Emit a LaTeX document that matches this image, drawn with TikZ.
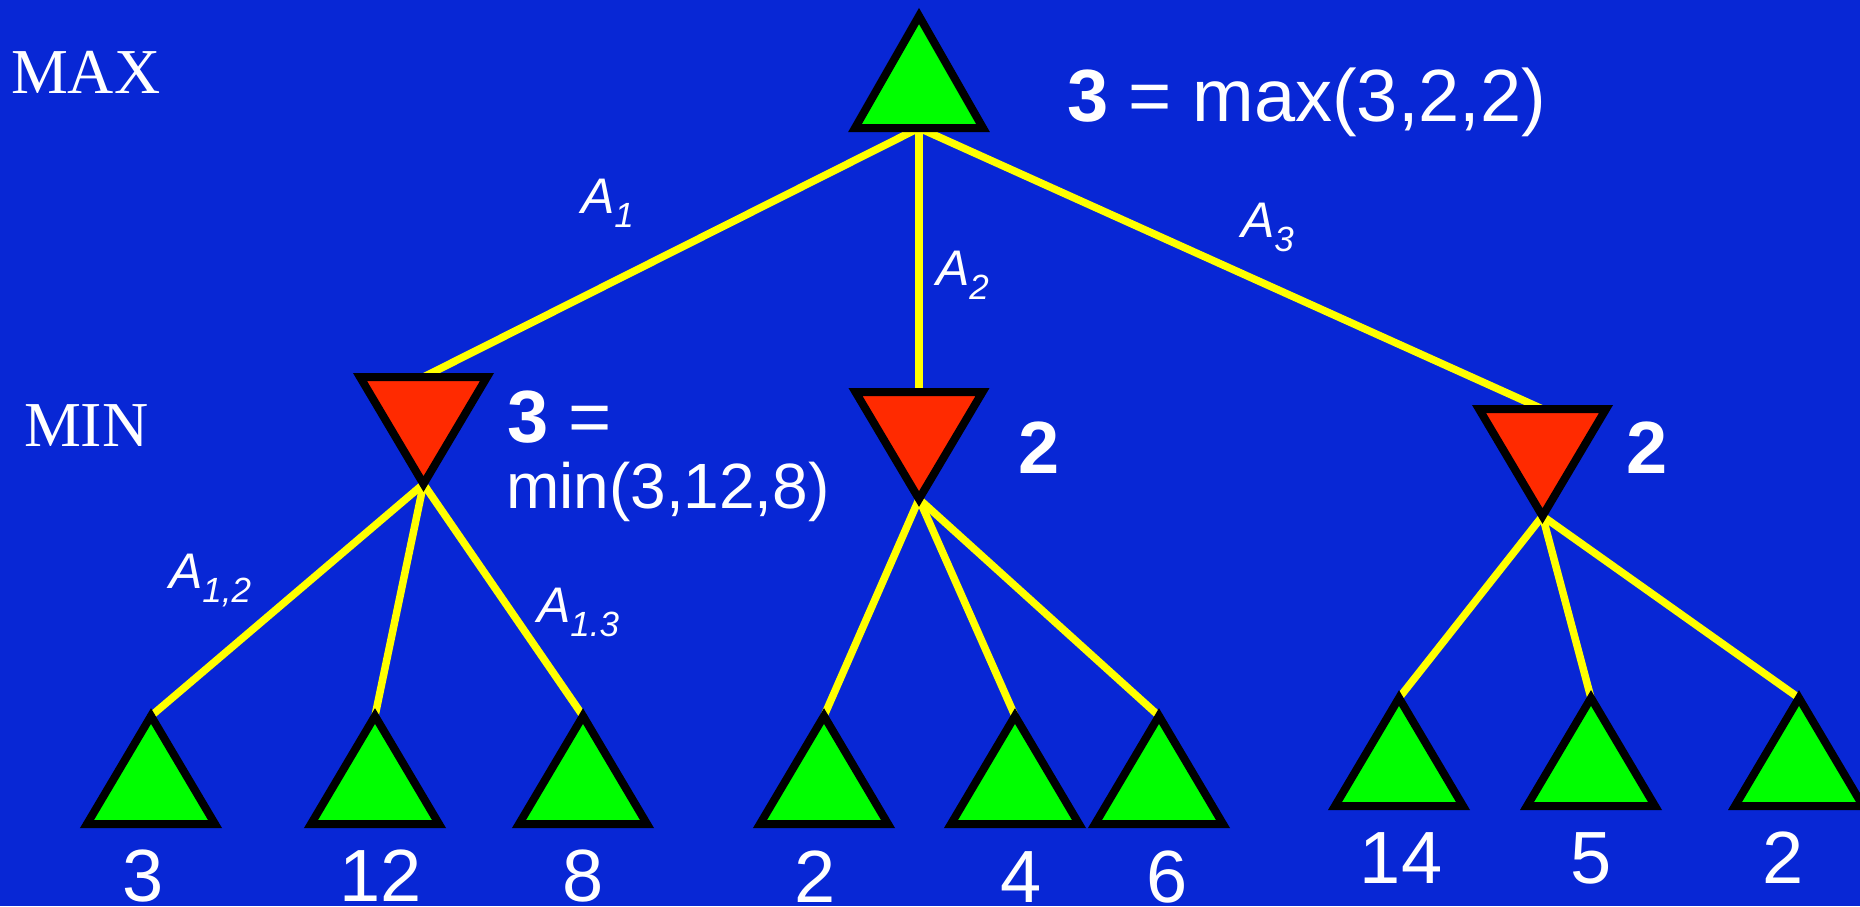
\documentclass[tikz,border=0pt]{standalone}
\usepackage{fontspec}
\setmainfont{Liberation Sans}
\newfontfamily\timesface{Liberation Serif}
\pgfdeclarelayer{bglayer}
\pgfsetlayers{bglayer,main}
\definecolor{bgblue}{RGB}{8,39,213}
\definecolor{maxgreen}{RGB}{0,255,0}
\definecolor{minred}{RGB}{255,42,0}
\definecolor{lineyellow}{RGB}{255,255,0}
\newcommand\setfs[1]{\fontsize{#1pt}{#1pt}\selectfont}
\newcommand\subtext[1]{\raisebox{-14pt}{\setfs{35}#1}}
\tikzset{
  triborder/.style={draw=black, line width=8pt, line join=miter},
  maxnode/.style={inner sep=0pt, outer sep=0pt, minimum width=128pt, minimum height=#1,
    append after command={\pgfextra{\draw[triborder, fill=maxgreen]
      (\tikzlastnode.south west) -- (\tikzlastnode.north) -- (\tikzlastnode.south east) -- cycle;}}},
  maxnode/.default=108pt,
  minnode/.style={inner sep=0pt, outer sep=0pt, minimum width=127pt, minimum height=107pt,
    append after command={\pgfextra{\draw[triborder, fill=minred]
      (\tikzlastnode.north west) -- (\tikzlastnode.south) -- (\tikzlastnode.north east) -- cycle;}}},
  branch/.style={draw=lineyellow, line width=7.5pt},
  txt/.style={text=white, inner sep=0pt, outer sep=0pt},
  value/.style={txt, anchor=base, font=\setfs{74}},
  lbl/.style={txt, anchor=base west, font=\setfs{74}},
  smalllbl/.style={txt, anchor=base west, font=\setfs{64}},
  actlbl/.style={txt, anchor=base west, font=\itshape\setfs{50}},
  level/.style={txt, anchor=base west, font=\timesface\setfs{64}},
}
\begin{document}
\begin{tikzpicture}[x=1pt, y=-1pt]
\useasboundingbox (0,0) rectangle (1860,906);
\begin{pgfonlayer}{bglayer}
  \fill[bgblue] (0,0) rectangle (1860,906);
\end{pgfonlayer}

% level labels
\node[level] (maxlbl) at (11,93) {MAX};
\node[level] (minlbl) at (24,446) {MIN};

% root
\node[maxnode=112pt] (root) at (919,72) {};
% MIN nodes
\node[minnode] (m1) at (423.5,430.5) {};
\node[minnode] (m2) at (919,445.5) {};
\node[minnode] (m3) at (1542.5,462.5) {};
% leaves
\node[maxnode] (l1) at (151,770) {};
\node[maxnode] (l2) at (375,770) {};
\node[maxnode] (l3) at (583,770) {};
\node[maxnode] (l4) at (824,770) {};
\node[maxnode] (l5) at (1015,770) {};
\node[maxnode] (l6) at (1159,770) {};
\node[maxnode] (l7) at (1399,752) {};
\node[maxnode] (l8) at (1591,752) {};
\node[maxnode] (l9) at (1799,752) {};

% branches
\begin{pgfonlayer}{bglayer}
  \draw[branch] (root.south) -- (m1.north);
  \draw[branch] (root.south) -- (m2.north);
  \draw[branch] (root.south) -- (m3.north);
  \draw[branch] (m1.south) -- (l1.north);
  \draw[branch] (m1.south) -- (l2.north);
  \draw[branch] (m1.south) -- (l3.north);
  \draw[branch] (m2.south) -- (l4.north);
  \draw[branch] (m2.south) -- (l5.north);
  \draw[branch] (m2.south) -- (l6.north);
  \draw[branch] (m3.south) -- (l7.north);
  \draw[branch] (m3.south) -- (l8.north);
  \draw[branch] (m3.south) -- (l9.north);
\end{pgfonlayer}

% values
\node[lbl] (rootval) at (1067,121) {\textbf{3} = max(3,2,2)};
\node[lbl] (m1val) at (507,442) {\textbf{3} =};
\node[smalllbl] (m1expr) at (506,508) {min(3,12,8)};
\node[lbl] (m2val) at (1018,473) {\textbf{2}};
\node[lbl] (m3val) at (1626,473) {\textbf{2}};

\node[value] (v1) at (143,901) {3};
\node[value] (v2) at (381,901) {12};
\node[value] (v3) at (583,901) {8};
\node[value] (v4) at (815,902) {2};
\node[value] (v5) at (1021,902) {4};
\node[value] (v6) at (1167,902) {6};
\node[value] (v7) at (1401,883) {14};
\node[value] (v8) at (1591,883) {5};
\node[value] (v9) at (1783,883) {2};

% action labels
\node[actlbl] (a1) at (581,213) {A\subtext{1}};
\node[actlbl] (a2) at (936,285) {A\subtext{2}};
\node[actlbl] (a3) at (1241,237) {A\subtext{3}};
\node[actlbl] (a12) at (169,588) {A\subtext{1,2}};
\node[actlbl] (a13) at (537,622) {A\subtext{1.3}};
\end{tikzpicture}
\end{document}
